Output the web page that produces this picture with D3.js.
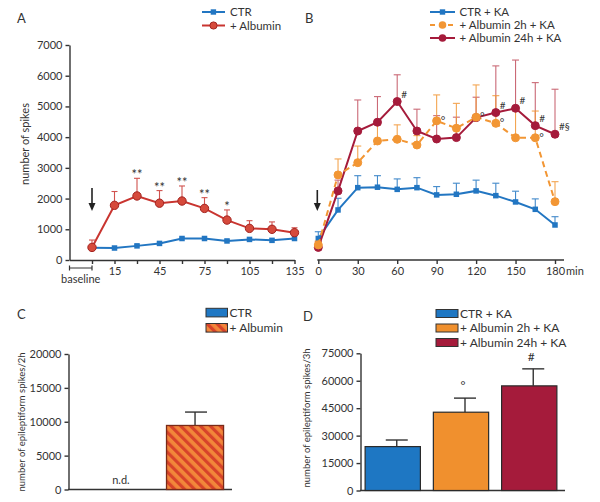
<!DOCTYPE html>
<html><head><meta charset="utf-8">
<script src="https://cdn.jsdelivr.net/npm/d3@7"></script>
<style>
body{margin:0;background:#fff}
svg{display:block}
text{font-family:Lato,"Open Sans",sans-serif;fill:#333}
</style>
</head><body>
<svg id="c" width="600" height="502"></svg>
<script>
// ---------- DATA ----------
const timesA = [0,15,30,45,60,75,90,105,120,135];
const ctrA    = [400,390,460,540,700,700,620,670,640,700];
const ctrAsem = [40,40,40,40,40,40,40,40,40,40];
const albA    = [410,1780,2085,1850,1920,1680,1300,1030,1000,890];
const albAsem = [240,450,575,410,490,350,330,250,240,160];
const sigA    = ["","","**","**","**","**","*","","",""];
const yTicksA = [0,1000,2000,3000,4000,5000,6000,7000];
const xTicksA = [0,15,30,45,60,75,90,105,120,135];
const xLabelsA = [15,45,75,105,135];

const timesB = [0,15,30,45,60,75,90,105,120,135,150,165,180];
const ctrB     = [700,1630,2355,2370,2300,2355,2120,2140,2250,2095,1890,1650,1140];
const ctrBsem  = [220,380,390,375,340,325,270,360,350,405,350,340,270];
const alb2B    = [490,2770,3170,3875,3930,3745,4530,4290,4650,4450,3980,3980,1900];
const alb2Bsem = [130,520,540,525,470,305,845,810,1050,900,920,870,650];
const alb24B   = [410,2250,4200,4485,5160,4200,3940,3985,4635,4800,4940,4375,4095];
const alb24Bsem= [190,350,1010,835,870,710,760,665,665,1520,1570,1400,1465];
const sig2B    = ["","","","","","","°","","°","°","","°",""];
const sig24B   = ["","","","","#","","","","","#","#","#","#§"];
const xTicksB  = [0,30,60,90,120,150,180];

const catsC = ["CTR","+ Albumin"];
const valsC = [null, 9450];
const semC  = [null, 1980];
const yTicksC = [0,5000,10000,15000,20000];

const catsD = ["CTR + KA","+ Albumin 2h + KA","+ Albumin 24h + KA"];
const valsD = [24000, 42800, 57200];
const semD  = [3600, 7700, 9300];
const sigD  = ["","°","#"];
const yTicksD = [0,15000,30000,45000,60000,75000];

// ---------- STYLE ----------
const BLUE="#2276c2", RED="#c93530", REDF="#d64a3c", ORANGE="#f29634", CRIMSON="#a51b3b", AX="#333";

const svg = d3.select("#c");
const defs = svg.append("defs");
const pat = defs.append("pattern").attr("id","hatch").attr("patternUnits","userSpaceOnUse")
  .attr("width",7).attr("height",7).attr("patternTransform","rotate(-45)");
pat.append("rect").attr("width",7).attr("height",7).attr("fill","#f2873a");
pat.append("rect").attr("width",3.2).attr("height",7).attr("fill","#d7432a");

function styleAxis(g){
  g.selectAll("path,line").attr("stroke",AX).attr("stroke-width",1.4);
  g.selectAll("text").attr("fill","#333").style("font-family","Lato,'Open Sans',sans-serif").style("font-size","11px");
}

function errBars(g, xs, ys, sems, x, y, color, cap){
  const e = g.append("g").attr("stroke",color).attr("stroke-width",1.1).attr("opacity",0.85);
  xs.forEach((t,i)=>{
    if(ys[i]==null) return;
    const cx = x(t), y0 = y(ys[i]), y1 = y(ys[i]+sems[i]);
    e.append("line").attr("x1",cx).attr("x2",cx).attr("y1",y0).attr("y2",y1);
    e.append("line").attr("x1",cx-cap/2).attr("x2",cx+cap/2).attr("y1",y1).attr("y2",y1);
  });
}
function lineSeries(g, xs, ys, x, y, color, dash){
  const l = d3.line().x((d,i)=>x(xs[i])).y(d=>y(d));
  g.append("path").datum(ys).attr("d",l).attr("fill","none").attr("stroke",color)
    .attr("stroke-width",2).attr("stroke-dasharray",dash||null);
}
function squares(g, xs, ys, x, y, color, s){
  g.selectAll(null).data(ys).enter().append("rect")
    .attr("x",(d,i)=>x(xs[i])-s/2).attr("y",d=>y(d)-s/2).attr("width",s).attr("height",s)
    .attr("fill",color);
}
function circles(g, xs, ys, x, y, fill, stroke, r){
  g.selectAll(null).data(ys).enter().append("circle")
    .attr("cx",(d,i)=>x(xs[i])).attr("cy",d=>y(d)).attr("r",r)
    .attr("fill",fill).attr("stroke",stroke).attr("stroke-width",1);
}
function arrow(g, cx, yTop, yBot){
  g.append("line").attr("x1",cx).attr("x2",cx).attr("y1",yTop).attr("y2",yBot-6).attr("stroke","#222").attr("stroke-width",1.6);
  g.append("path").attr("d",`M${cx-3.5},${yBot-8} L${cx+3.5},${yBot-8} L${cx},${yBot} Z`).attr("fill","#222");
}

// ---------- PANEL A ----------
const yA = d3.scaleLinear().domain([0,7000]).range([260,45]);
const xA = d3.scaleLinear().domain([-15,135]).range([69.5,294.5]);
const gA = svg.append("g");
gA.append("g").attr("transform","translate(69.5,0)")
  .call(d3.axisLeft(yA).tickValues(yTicksA).tickSize(4).tickSizeOuter(0).tickPadding(3).tickFormat(d3.format("d")))
  .call(styleAxis);
gA.append("g").attr("transform","translate(0,260)")
  .call(d3.axisBottom(xA).tickValues(xTicksA).tickSize(4).tickSizeOuter(0).tickPadding(3)
    .tickFormat(d=>xLabelsA.includes(d)?d:""))
  .call(styleAxis);
// baseline bracket
const by = 268;
gA.append("path").attr("d",`M${xA(-15)},${by-2.5} V${by+2.5} M${xA(-15)},${by} H${xA(0)} M${xA(0)},${by-2.5} V${by+2.5}`)
  .attr("stroke",AX).attr("stroke-width",1.2).attr("fill","none");
gA.append("text").attr("x",(xA(-15)+xA(0))/2).attr("y",283).attr("text-anchor","middle").style("font-size","11px").text("baseline");
gA.append("text").attr("transform","translate(29,144) rotate(-90)").attr("text-anchor","middle").style("font-size","11px").text("number of spikes");
gA.append("text").attr("x",17).attr("y",23).style("font-size","13px").text("A");
arrow(gA, xA(0), 188, 211);

errBars(gA, timesA, albA, albAsem, xA, yA, RED, 6);
errBars(gA, timesA, ctrA, ctrAsem, xA, yA, BLUE, 5);
lineSeries(gA, timesA, ctrA, xA, yA, BLUE);
lineSeries(gA, timesA, albA, xA, yA, RED);
squares(gA, timesA, ctrA, xA, yA, BLUE, 5.5);
circles(gA, timesA, albA, xA, yA, REDF, "#a32420", 4.2);
gA.selectAll(null).data(sigA).enter().append("text")
  .attr("x",(d,i)=>xA(timesA[i])).attr("y",(d,i)=>yA(albA[i]+albAsem[i])+1)
  .attr("text-anchor","middle").style("font-size","13px").attr("fill","#444").text(d=>d);

// legend A
[[BLUE,"CTR",12,"sq"],[RED,"+ Albumin",25.5,"ci"]].forEach(([c,t,y,m])=>{
  gA.append("line").attr("x1",202).attr("x2",225).attr("y1",y).attr("y2",y).attr("stroke",c).attr("stroke-width",2);
  if(m==="sq") gA.append("rect").attr("x",210.7).attr("y",y-2.7).attr("width",5.4).attr("height",5.4).attr("fill",c);
  else gA.append("circle").attr("cx",213.5).attr("cy",y).attr("r",3.6).attr("fill",REDF).attr("stroke","#a32420");
  gA.append("text").attr("x",230).attr("y",y).attr("dy","0.35em").style("font-size","11.5px").text(t);
});

// ---------- PANEL B ----------
const xB = d3.scaleLinear().domain([0,180]).range([318.3,555]);
const yB = yA;
const gB = svg.append("g");
const axB = gB.append("g").attr("transform","translate(0,260)")
  .call(d3.axisBottom(xB).tickValues(xTicksB).tickSize(4).tickSizeOuter(0).tickPadding(3))
  .call(styleAxis);
axB.select(".domain").remove();
gB.append("line").attr("x1",xB(0)-1).attr("x2",564).attr("y1",260).attr("y2",260).attr("stroke",AX).attr("stroke-width",1.4);
gB.append("text").attr("x",566).attr("y",271.5).attr("dy","0.35em").style("font-size","11px").text("min");
gB.append("text").attr("x",305).attr("y",23).style("font-size","13px").text("B");
arrow(gB, xB(0)-1, 190, 211);

errBars(gB, timesB, ctrB, ctrBsem, xB, yB, BLUE, 7);
lineSeries(gB, timesB, ctrB, xB, yB, BLUE);
squares(gB, timesB, ctrB, xB, yB, BLUE, 5.5);
errBars(gB, timesB, alb24B, alb24Bsem, xB, yB, "#c2505f", 7);
errBars(gB, timesB, alb2B, alb2Bsem, xB, yB, ORANGE, 7);
lineSeries(gB, timesB, alb24B, xB, yB, CRIMSON);
lineSeries(gB, timesB, alb2B, xB, yB, ORANGE, "6,4");
circles(gB, timesB, alb24B, xB, yB, CRIMSON, CRIMSON, 4);
circles(gB, timesB, alb2B, xB, yB, ORANGE, ORANGE, 4);
gB.selectAll(null).data(sig24B).enter().append("text")
  .attr("x",(d,i)=>xB(timesB[i])+4).attr("y",(d,i)=>yB(alb24B[i])-4)
  .style("font-size","10px").attr("fill","#555").text(d=>d);
gB.selectAll(null).data(sig2B).enter().append("text")
  .attr("x",(d,i)=>xB(timesB[i])+4).attr("y",(d,i)=>yB(alb2B[i])+4)
  .style("font-size","11px").attr("fill","#555").text(d=>d);

// legend B
[[BLUE,"CTR + KA",12,"sq",null],[ORANGE,"+ Albumin 2h + KA",25,"ci","5,4"],[CRIMSON,"+ Albumin 24h + KA",38,"ci",null]].forEach(([c,t,y,m,dash])=>{
  gB.append("line").attr("x1",430).attr("x2",455).attr("y1",y).attr("y2",y).attr("stroke",c).attr("stroke-width",2).attr("stroke-dasharray",dash);
  if(m==="sq") gB.append("rect").attr("x",439.8).attr("y",y-2.7).attr("width",5.4).attr("height",5.4).attr("fill",c);
  else gB.append("circle").attr("cx",442.5).attr("cy",y).attr("r",3.8).attr("fill",c);
  gB.append("text").attr("x",459.5).attr("y",y).attr("dy","0.35em").style("font-size","11.5px").text(t);
});

// ---------- PANEL C ----------
const yC = d3.scaleLinear().domain([0,20000]).range([489.5,354]);
const xC = d3.scaleBand().domain(catsC).range([68,248]).paddingInner(0.23).paddingOuter(0.33);
const gC = svg.append("g");
gC.append("g").attr("transform","translate(68.5,0)")
  .call(d3.axisLeft(yC).tickValues(yTicksC).tickSize(4).tickSizeOuter(0).tickPadding(3).tickFormat(d3.format("d")))
  .call(styleAxis);
gC.append("line").attr("x1",68).attr("x2",232).attr("y1",489.5).attr("y2",489.5).attr("stroke",AX).attr("stroke-width",1.4);
catsC.forEach((c,i)=>{
  const cx = xC(c)+xC.bandwidth()/2;
  if(valsC[i]==null){
    gC.append("text").attr("x",cx).attr("y",484).attr("text-anchor","middle").style("font-size","11px").text("n.d.");
    return;
  }
  const y1 = yC(valsC[i]+semC[i]);
  gC.append("line").attr("x1",cx).attr("x2",cx).attr("y1",yC(valsC[i])).attr("y2",y1).attr("stroke","#333").attr("stroke-width",1.4);
  gC.append("line").attr("x1",cx-10).attr("x2",cx+12).attr("y1",y1).attr("y2",y1).attr("stroke","#333").attr("stroke-width",1.4);
  gC.append("rect").attr("x",xC(c)).attr("y",yC(valsC[i])).attr("width",xC.bandwidth()).attr("height",yC(0)-yC(valsC[i]))
    .attr("fill","url(#hatch)").attr("stroke","#7a2a18").attr("stroke-width",1.3);
});
gC.append("text").attr("transform","translate(25,422) rotate(-90)").attr("text-anchor","middle").style("font-size","9.5px").text("number of epileptiform spikes/2h");
gC.append("text").attr("x",17).attr("y",319).style("font-size","13px").text("C");
[["#1f78c4","CTR",308.3],["url(#hatch)","+ Albumin",323.5]].forEach(([f,t,y])=>{
  gC.append("rect").attr("x",206).attr("y",y).attr("width",21.5).attr("height",8.6).attr("fill",f).attr("stroke","#333").attr("stroke-width",1);
  gC.append("text").attr("x",229.5).attr("y",y+4.3).attr("dy","0.35em").style("font-size","12px").text(t);
});

// ---------- PANEL D ----------
const yD = d3.scaleLinear().domain([0,75000]).range([490.5,353.3]);
const xD = d3.scaleBand().domain(catsD).range([360,562]).paddingInner(0.19).paddingOuter(0.075);
const colD = ["#1e77c3","#f0902e","#a51b3b"];
const gD = svg.append("g");
gD.append("g").attr("transform","translate(360.5,0)")
  .call(d3.axisLeft(yD).tickValues(yTicksD).tickSize(4).tickSizeOuter(0).tickPadding(3).tickFormat(d3.format("d")))
  .call(styleAxis);
gD.append("line").attr("x1",360).attr("x2",565).attr("y1",490.5).attr("y2",490.5).attr("stroke",AX).attr("stroke-width",1.4);
catsD.forEach((c,i)=>{
  const cx = xD(c)+xD.bandwidth()/2;
  const y1 = yD(valsD[i]+semD[i]);
  gD.append("line").attr("x1",cx+4).attr("x2",cx+4).attr("y1",yD(valsD[i])).attr("y2",y1).attr("stroke","#333").attr("stroke-width",1.4);
  gD.append("line").attr("x1",cx-7).attr("x2",cx+15).attr("y1",y1).attr("y2",y1).attr("stroke","#333").attr("stroke-width",1.4);
  gD.append("rect").attr("x",xD(c)).attr("y",yD(valsD[i])).attr("width",xD.bandwidth()).attr("height",yD(0)-yD(valsD[i]))
    .attr("fill",colD[i]).attr("stroke","#2a2a2a").attr("stroke-width",1.2);
  if(sigD[i]) gD.append("text").attr("x",cx+2).attr("y",y1-8).attr("text-anchor","middle").style("font-size","12px").attr("fill","#444").text(sigD[i]);
});
gD.append("text").attr("transform","translate(310,418) rotate(-90)").attr("text-anchor","middle").style("font-size","9.5px").text("number of epileptiform spikes/3h");
gD.append("text").attr("x",303).attr("y",321).style("font-size","13px").text("D");
catsD.forEach((c,i)=>{
  const y = [309.5,324,338.5][i];
  gD.append("rect").attr("x",436).attr("y",y).attr("width",22).attr("height",8).attr("fill",colD[i]).attr("stroke","#333").attr("stroke-width",1);
  gD.append("text").attr("x",460).attr("y",y+4).attr("dy","0.35em").style("font-size","12px").text(c);
});
</script>
</body></html>
